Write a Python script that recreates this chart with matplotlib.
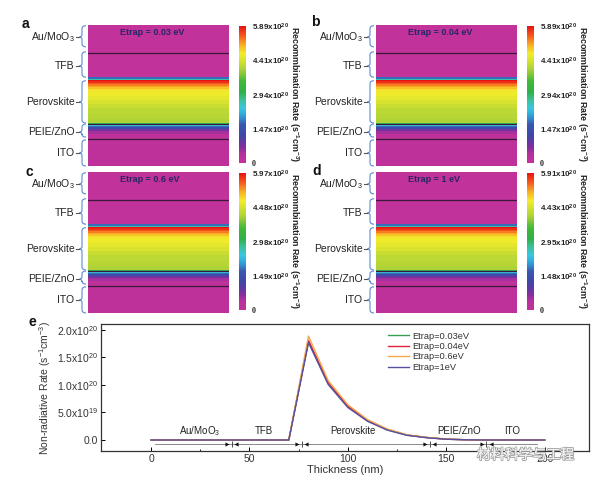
import numpy as np
import matplotlib
matplotlib.use('Agg')
import matplotlib.pyplot as plt
from matplotlib.colors import LinearSegmentedColormap
from matplotlib.path import Path
from matplotlib.patches import PathPatch
from matplotlib.lines import Line2D
import matplotlib.patheffects as pe

plt.rcParams['font.family'] = ['Liberation Sans', 'DejaVu Sans']
plt.rcParams['mathtext.fontset'] = 'custom'
plt.rcParams['mathtext.rm'] = 'Liberation Sans'
plt.rcParams['mathtext.it'] = 'Liberation Sans:italic'
plt.rcParams['mathtext.bf'] = 'Liberation Sans:bold'

W, H = 609, 482

# ---------------- data ----------------
layer_names = ['Au/MoO$_3$', 'TFB', 'Perovskite', 'PEIE/ZnO', 'ITO']
# heatmap depth (nm from top) of brace extents and label centres
brace_top = [1, 38, 79, 140.5, 163]
brace_bot = [31, 74, 139, 159, 200]
brace_mid = [17, 58, 109, 152, 181.5]
interface_lines = [40, 140, 161]

# recombination profile through the stack (fraction of colour-bar maximum)
depth_edges = [0, 74, 76, 78, 80, 82, 84, 86, 88, 91, 94, 100, 106, 112, 118,
               126, 133, 139, 141, 143, 145, 147, 150, 155, 200]
rate_frac = [0.0, 0.30, 0.45, 1.0, 0.97, 0.93, 0.90, 0.87, 0.84, 0.81, 0.79,
             0.77, 0.75, 0.73, 0.71, 0.70, 0.69, 0.5, 0.40, 0.30, 0.22, 0.14,
             0.08, 0.02]

panel_letters = ['a', 'b', 'c', 'd']
etrap_labels = ['0.03', '0.04', '0.6', '1']
cbar_max = [5.89, 5.89, 5.97, 5.91]
cbar_ticks = [[0, 1.47, 2.94, 4.41, 5.89],
              [0, 1.47, 2.94, 4.41, 5.89],
              [0, 1.49, 2.98, 4.48, 5.97],
              [0, 1.48, 2.95, 4.43, 5.91]]

# panel e
thickness = [0, 10, 20, 30, 40, 50, 60, 70, 80, 90, 100, 110, 120, 130, 140,
             150, 160, 170, 180, 190, 200]
rate_003 = [0, 0, 0, 0, 0, 0, 0, 0, 1.79, 1.03, 0.61, 0.35, 0.19, 0.09, 0.045,
            0.015, 0.004, 0, 0, 0, 0]
rate_004 = [0, 0, 0, 0, 0, 0, 0, 0, 1.81, 1.04, 0.615, 0.355, 0.19, 0.09, 0.045,
            0.015, 0.004, 0, 0, 0, 0]
rate_06 = [0, 0, 0, 0, 0, 0, 0, 0, 1.89, 1.08, 0.64, 0.37, 0.20, 0.095, 0.048,
           0.017, 0.005, 0, 0, 0, 0]
rate_1 = [0, 0, 0, 0, 0, 0, 0, 0, 1.77, 1.01, 0.59, 0.34, 0.18, 0.085, 0.042,
          0.014, 0.004, 0, 0, 0, 0]
series_labels = ['Etrap=0.03eV', 'Etrap=0.04eV', 'Etrap=0.6eV', 'Etrap=1eV']
series_colors = ['#3a9e55', '#e0203c', '#f2a848', '#5650a2']

e_layer_names = ['Au/MoO$_3$', 'TFB', 'Perovskite', 'PEIE/ZnO', 'ITO']
e_layer_x = [24.9, 57.5, 102.5, 156.4, 183.6]
e_boundaries = [41, 76.5, 141.6, 170.4]
e_ticks_y = [0, 0.5, 1.0, 1.5, 2.0]
e_ticklabels_y = ['0.0', '5.0x10$^{19}$', '1.0x10$^{20}$', '1.5x10$^{20}$', '2.0x10$^{20}$']

# ---------------- colormap ----------------
cmap = LinearSegmentedColormap.from_list('origin_rainbow', [
    (0.00, '#c1329a'), (0.06, '#b8309c'), (0.12, '#7d2f9f'), (0.20, '#3f46a8'),
    (0.28, '#3a56b0'), (0.35, '#2fa8dc'), (0.40, '#38c8e0'), (0.46, '#3cc09a'),
    (0.52, '#30b048'), (0.60, '#44b838'), (0.68, '#a8d038'), (0.74, '#d0e030'),
    (0.80, '#f4ec2a'), (0.87, '#f8a824'), (0.93, '#f45a1c'), (1.00, '#e81414')])

fig = plt.figure(figsize=(W / 100, H / 100), dpi=100)


def rect(l, t, w, h):
    return [l / W, 1 - (t + h) / H, w / W, h / H]


def fx(x):
    return x / W


def fy(y):
    return 1 - y / H


def brace(x, y0, y1, ym, color='#5b8bd0'):
    v = [(x + 4, y0), (x, y0), (x, y0 + 3),
         (x, ym - 2.5), (x, ym), (x - 2.5, ym),
         (x, ym), (x, ym + 2.5),
         (x, y1 - 3), (x, y1), (x + 4, y1)]
    c = [Path.MOVETO, Path.CURVE3, Path.CURVE3,
         Path.LINETO, Path.CURVE3, Path.CURVE3,
         Path.CURVE3, Path.CURVE3,
         Path.LINETO, Path.CURVE3, Path.CURVE3]
    v = [(fx(a), fy(b)) for a, b in v]
    fig.add_artist(PathPatch(Path(v, c), fill=False, edgecolor=color, lw=0.8,
                             transform=fig.transFigure))


panel_pos = [(88, 25), (376, 25), (88, 172), (376, 172)]
letter_pos = [(25, 23.5), (315, 22), (29, 171.5), (317, 171)]
PW = PH = 141

for i in range(4):
    l, t = panel_pos[i]
    ax = fig.add_axes(rect(l, t, PW, PH))
    vals = np.array(rate_frac) * cbar_max[i]
    mesh = ax.pcolormesh([0, 1], depth_edges, vals.reshape(-1, 1), cmap=cmap,
                         vmin=0, vmax=cbar_max[i], shading='flat')
    ax.set_xlim(0, 1)
    ax.set_ylim(200, 0)
    for d in interface_lines:
        ax.axhline(d, color='#3a1838', lw=0.9)
    ax.set_xticks([])
    ax.set_yticks([])
    for s in ax.spines.values():
        s.set_visible(False)
    ax.text(0.227, 0.978, f'Etrap = {etrap_labels[i]} eV', transform=ax.transAxes,
            ha='left', va='top', fontsize=6.5, fontweight='bold', color='#2b2566')

    # braces and layer labels
    for name, y0, y1, ym in zip(layer_names, brace_top, brace_bot, brace_mid):
        py0 = t + y0 / 200 * PH
        py1 = t + y1 / 200 * PH
        pym = t + ym / 200 * PH
        brace(l - 6, py0, py1, pym)
        fig.add_artist(Line2D([fx(l - 12), fx(l - 9)], [fy(pym), fy(pym)],
                              color='#555555', lw=0.8, transform=fig.transFigure))
        fig.text(fx(l - 13.5), fy(pym), name, ha='right', va='center',
                 fontsize=7.5, color='#222222')

    # colour bar
    cax = fig.add_axes(rect(l + 151, t + 1, 7, 137))
    cb = fig.colorbar(mesh, cax=cax, ticks=cbar_ticks[i])
    cb.outline.set_visible(False)
    labels = ['0'] + [f'{v:.2f}x10$^{{\\mathbf{{20}}}}$' for v in cbar_ticks[i][1:]]
    cb.set_ticklabels(labels)
    cax.tick_params(length=0, pad=4.5)
    for k, tl in enumerate(cax.get_yticklabels()):
        tl.set_fontsize(5.8)
        tl.set_fontweight('bold')
        tl.set_color('#222222')
        if k == 0:
            tl.set_fontfamily('Liberation Serif')
    fig.text(fx(l + 158 + 48), fy(t + 1 + 137 / 2),
             'Recommbination Rate (s$^{\\mathbf{-1}}$cm$^{\\mathbf{-3}}$)',
             rotation=-90, ha='center', va='center', fontsize=6.4,
             fontweight='bold', color='#222222')

    lx, ly = letter_pos[i]
    fig.text(fx(lx), fy(ly), panel_letters[i], ha='center', va='center',
             fontsize=10, fontweight='bold', color='#111111')

# ---------------- panel e ----------------
axe = fig.add_axes(rect(101, 324, 488, 127))
for y, lab, col in zip([rate_003, rate_004, rate_06, rate_1], series_labels, series_colors):
    axe.plot(thickness, y, color=col, lw=1.0, label=lab)
axe.set_xlim(-25.4, 222.5)
axe.set_ylim(-0.2, 2.109)
axe.set_xticks([0, 50, 100, 150, 200])
axe.set_xticks([25, 75, 125, 175], minor=True)
axe.set_yticks(e_ticks_y)
axe.set_yticklabels(e_ticklabels_y)
axe.tick_params(direction='in', length=3, width=0.7, labelsize=7.5,
                labelcolor='#333333', pad=2)
axe.tick_params(which='minor', direction='in', length=1.5, width=0.6)
for s in axe.spines.values():
    s.set_linewidth(0.9)
    s.set_color('#333333')
axe.set_xlabel('Thickness (nm)', fontsize=8, color='#333333', labelpad=1)
axe.set_ylabel('Non-radiative Rate (s$^{-1}$cm$^{-3}$)', fontsize=7.5,
               color='#333333', labelpad=3)

for name, xc in zip(e_layer_names, e_layer_x):
    axe.text(xc, 0.165, name, ha='center', va='center', fontsize=7, color='#222222')

dim_y = -0.065
axe.plot([2, 196], [dim_y, dim_y], color='#777777', lw=0.6)
for b in e_boundaries:
    axe.plot([b - 2.3], [dim_y], marker='>', ms=3, color='#111111', mew=0)
    axe.plot([b + 2.3], [dim_y], marker='<', ms=3, color='#111111', mew=0)
    axe.plot([b], [dim_y], marker='|', ms=5, color='#333333', mew=0.6)

leg = axe.legend(loc='upper left', bbox_to_anchor=(0.588, 0.94), frameon=False,
                 fontsize=6.7, handlelength=2.3, handletextpad=0.35,
                 labelspacing=0.15, borderpad=0, borderaxespad=0)
for tx in leg.get_texts():
    tx.set_color('#333333')

fig.text(fx(32), fy(322), 'e', ha='center', va='center', fontsize=10,
         fontweight='bold', color='#111111')

# watermark
wm = fig.text(fx(477), fy(455), '材料科学与工程', ha='left', va='center',
              fontsize=10, color='#f0f0f0',
              family=['Noto Sans CJK SC', 'DejaVu Sans'])
wm.set_path_effects([pe.withStroke(linewidth=1.2, foreground='#9a9a9a'), pe.Normal()])

fig.savefig('out.png', dpi=100)
